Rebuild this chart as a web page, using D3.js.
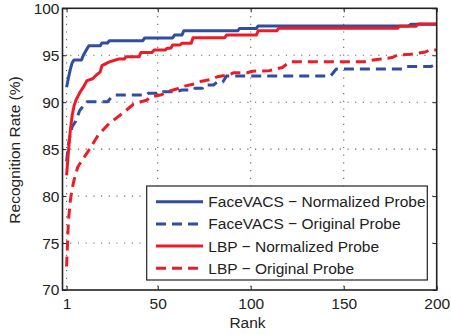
<!DOCTYPE html>
<html>
<head>
<meta charset="utf-8">
<script src="https://cdn.jsdelivr.net/npm/d3@7"></script>
<style>
  body { margin: 0; background: #fff; }
  svg text { font-family: Arial, "Liberation Sans", Helvetica, sans-serif; fill: #222; }
</style>
</head>
<body>
<svg id="chart" width="451" height="335"></svg>
<script>
// rank / recognition rate pairs
var fvNorm = [
  [1, 91.6], [2, 92.6], [3, 93.5], [4, 94.2], [5, 94.5], [9, 94.5], [10, 95.0], [12, 95.7],
  [13, 96.0], [19, 96.0], [20, 96.3], [23, 96.3], [24, 96.55], [42, 96.55], [43, 96.85],
  [58, 96.85], [59, 97.15], [63, 97.15], [64, 97.6], [93, 97.6], [94, 97.85], [103, 97.85],
  [104, 98.12], [185, 98.12], [186, 98.3], [200, 98.3]
];
var fvOrig = [
  [1, 83.7], [2, 85.5], [3, 86.6], [4, 87.4], [6, 88.0], [8, 89.1], [10, 89.6], [12, 90.05],
  [23, 90.05], [25, 90.5], [27, 90.77], [44, 90.77], [45, 90.95], [52, 90.95], [53, 91.12],
  [60, 91.12], [63, 91.3], [69, 91.3], [70, 91.48], [74, 91.48], [75, 91.83], [80, 91.83],
  [82, 92.15], [85, 92.15], [87, 92.8], [143, 92.8], [146, 93.54], [182, 93.54], [184, 93.8],
  [197, 93.8], [200, 94.1]
];
var lbpNorm = [
  [1, 82.2], [2, 84.8], [3, 87.0], [4, 88.6], [5, 89.6], [6, 90.2], [8, 91.0], [10, 91.6],
  [12, 92.3], [15, 92.5], [17, 92.9], [19, 93.2], [20, 93.9], [24, 94.3], [29, 94.6], [32, 94.6],
  [33, 94.85], [40, 94.85], [41, 95.3], [47, 95.3], [48, 95.55], [54, 95.55], [55, 95.75],
  [57, 95.75], [58, 96.1], [62, 96.1], [63, 96.27], [68, 96.27], [69, 96.87], [86, 96.87],
  [87, 97.15], [103, 97.15], [104, 97.6], [114, 97.6], [115, 97.87], [179, 97.87], [180, 98.1],
  [189, 98.1], [190, 98.33], [200, 98.33]
];
var lbpOrig = [
  [1, 72.5], [2, 77.4], [3, 79.5], [4, 80.8], [5, 81.7], [7, 83.1], [10, 84.0], [13, 84.9],
  [18, 86.5], [24, 87.75], [31, 88.8], [37, 89.8], [41, 90.05], [44, 90.2], [46, 90.55],
  [52, 90.8], [55, 91.1], [60, 91.4], [64, 91.7], [70, 91.95], [73, 92.2], [78, 92.4],
  [82, 92.7], [88, 92.9], [91, 93.14], [98, 93.14], [101, 93.3], [110, 93.36], [117, 93.7],
  [121, 94.3], [161, 94.3], [166, 94.5], [170, 94.6], [176, 94.75], [179, 95.03], [186, 95.1],
  [189, 95.2], [194, 95.35], [196, 95.56], [200, 95.56]
];

var xTicks = [1, 50, 100, 150, 200];
var yTicks = [70, 75, 80, 85, 90, 95, 100];
var seriesNames = ["FaceVACS \u2212 Normalized Probe", "FaceVACS \u2212 Original Probe",
                   "LBP \u2212 Normalized Probe", "LBP \u2212 Original Probe"];

var blue = "#2f4ea3", red = "#ec1c27";
var series = [
  { name: seriesNames[0], data: fvNorm, color: blue, dash: null },
  { name: seriesNames[1], data: fvOrig, color: blue, dash: "10,6" },
  { name: seriesNames[2], data: lbpNorm, color: red, dash: null },
  { name: seriesNames[3], data: lbpOrig, color: red, dash: "10,6" }
];

var L = 62.5, R = 436.7, T = 8.3, B = 290;
var svg = d3.select("#chart");

var x = d3.scaleLinear().domain([-1.2, 200]).range([L, R]);
var y = d3.scaleLinear().domain([70, 100]).range([B, T]);

// dotted grid
var grid = svg.append("g").attr("stroke", "#666").attr("stroke-width", 1.1)
  .attr("stroke-dasharray", "1.2,6.5");
grid.selectAll(".gx").data(xTicks.slice(0, -1)).enter().append("line")
  .attr("x1", function(d){ return x(d); }).attr("x2", function(d){ return x(d); })
  .attr("y1", T).attr("y2", B);
grid.selectAll(".gy").data(yTicks.slice(1, -1)).enter().append("line")
  .attr("x1", L).attr("x2", R)
  .attr("y1", function(d){ return y(d); }).attr("y2", function(d){ return y(d); });

// axes with inward ticks
var fontSize = "15.5px";
var gx = svg.append("g").attr("transform", "translate(0," + B + ")")
  .call(d3.axisBottom(x).tickValues(xTicks).tickSize(-4).tickSizeOuter(0).tickPadding(8));
var gy = svg.append("g").attr("transform", "translate(" + L + ",0)")
  .call(d3.axisLeft(y).tickValues(yTicks).tickSize(-4).tickSizeOuter(0).tickPadding(3));
var gt = svg.append("g").attr("transform", "translate(0," + T + ")")
  .call(d3.axisTop(x).tickValues(xTicks).tickSize(-4).tickSizeOuter(0).tickFormat(""));
var gr = svg.append("g").attr("transform", "translate(" + R + ",0)")
  .call(d3.axisRight(y).tickValues(yTicks).tickSize(-4).tickSizeOuter(0).tickFormat(""));
[gx, gy, gt, gr].forEach(function(g){
  g.select(".domain").remove();
  g.selectAll("line").attr("stroke", "#222").attr("stroke-width", 1);
  g.selectAll("text").attr("font-size", fontSize).attr("fill", "#222");
});

// lines
var line = d3.line().x(function(d){ return x(d[0]); }).y(function(d){ return y(d[1]); });
svg.append("g").selectAll("path").data(series).enter().append("path")
  .attr("d", function(d){ return line(d.data); })
  .attr("fill", "none")
  .attr("stroke", function(d){ return d.color; })
  .attr("stroke-width", 3)
  .attr("stroke-linejoin", "round")
  .attr("stroke-dasharray", function(d){ return d.dash; });

// frame
svg.append("rect").attr("x", L).attr("y", T).attr("width", R - L).attr("height", B - T)
  .attr("fill", "none").attr("stroke", "#222").attr("stroke-width", 1.6);

// axis labels
svg.append("text").attr("x", 247.5).attr("y", 328.3).attr("text-anchor", "middle")
  .attr("font-size", fontSize).text("Rank");
svg.append("text").attr("transform", "translate(20,150) rotate(-90)")
  .attr("text-anchor", "middle").attr("font-size", fontSize).text("Recognition Rate (%)");

// legend
var lg = svg.append("g");
lg.append("rect").attr("x", 146.7).attr("y", 186).attr("width", 280.6).attr("height", 94)
  .attr("fill", "#fff").attr("stroke", "#222").attr("stroke-width", 1.2);
var rows = lg.selectAll(".row").data(series).enter().append("g")
  .attr("transform", function(d, i){ return "translate(0," + (201.7 + i * 22.2) + ")"; });
rows.append("line").attr("x1", 156).attr("x2", 203).attr("y1", 0).attr("y2", 0)
  .attr("stroke", function(d){ return d.color; }).attr("stroke-width", 3)
  .attr("stroke-dasharray", function(d){ return d.dash; });
rows.append("text").attr("x", 208.3).attr("dy", "0.35em").attr("font-size", fontSize)
  .text(function(d){ return d.name; });
</script>
</body>
</html>
